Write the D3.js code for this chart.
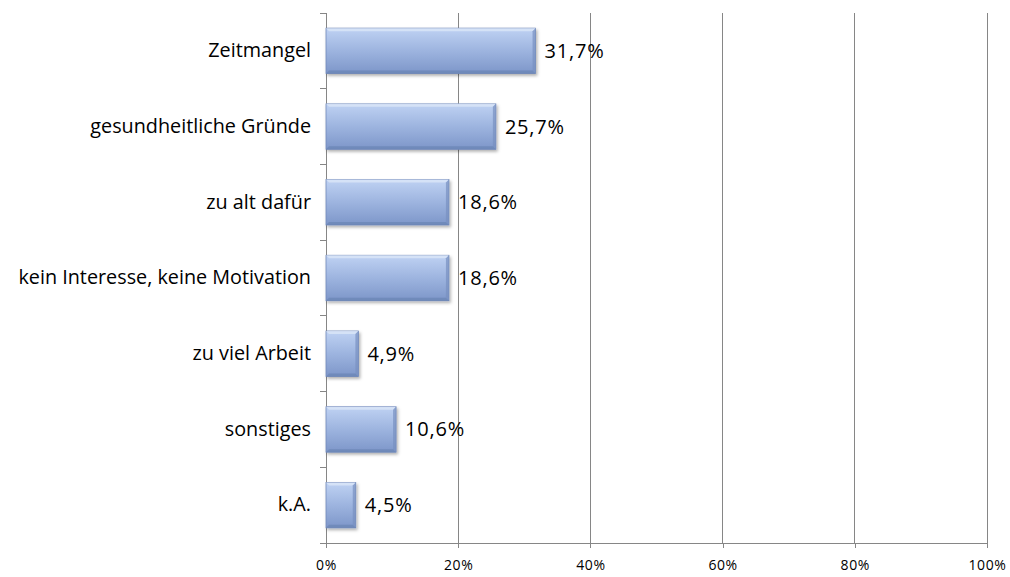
<!DOCTYPE html>
<html><head><meta charset="utf-8">
<script src="https://cdn.jsdelivr.net/npm/d3@7"></script>
<style>body{margin:0;background:#fff}svg{display:block}</style>
</head><body>
<script>
const categories = ["Zeitmangel","gesundheitliche Gründe","zu alt dafür","kein Interesse, keine Motivation","zu viel Arbeit","sonstiges","k.A."];
const values = [31.7,25.7,18.6,18.6,4.9,10.6,4.5];
const valueLabels = ["31,7%","25,7%","18,6%","18,6%","4,9%","10,6%","4,5%"];
const xTicks = [0,20,40,60,80,100];

const W=1010,H=577;
const svg=d3.select("body").append("svg").attr("width",W).attr("height",H);
const font="'Open Sans', sans-serif";
const x=d3.scaleLinear().domain([0,100]).range([326,987]);
const y=d3.scaleBand().domain(categories).range([13,543]).paddingInner(0.4).paddingOuter(0.2);
const defs=svg.append("defs");
const g=defs.append("linearGradient").attr("id","bg").attr("x1",0).attr("y1",0).attr("x2",0).attr("y2",1);
g.append("stop").attr("offset","0%").attr("stop-color","#bfd2f3");
g.append("stop").attr("offset","50%").attr("stop-color","#9db4df");
g.append("stop").attr("offset","100%").attr("stop-color","#7d96c9");
const f=defs.append("filter").attr("id","sh").attr("x","-10%").attr("y","-10%").attr("width","130%").attr("height","140%");
f.append("feDropShadow").attr("dx",1.5).attr("dy",2).attr("stdDeviation",1.5).attr("flood-color","#000").attr("flood-opacity",0.3);

// gridlines
svg.append("g").selectAll("line").data(xTicks.slice(1)).join("line")
 .attr("x1",d=>x(d)).attr("x2",d=>x(d)).attr("y1",13).attr("y2",543)
 .attr("stroke","#868686").attr("stroke-width",1).attr("shape-rendering","crispEdges");

// x axis
const xa=svg.append("g").attr("transform","translate(0,543)")
 .call(d3.axisBottom(x).tickValues(xTicks).tickSize(5).tickPadding(12).tickFormat(d=>d+"%"));
xa.attr("font-size",14);
xa.select(".domain").remove();
xa.selectAll(".tick line").attr("stroke","#868686").attr("shape-rendering","crispEdges");
xa.selectAll("text").attr("font-family",font).style("font-size","14px").attr("letter-spacing","0.6px").attr("fill","#000");
svg.append("line").attr("x1",320).attr("x2",987).attr("y1",543).attr("y2",543).attr("stroke","#868686").attr("shape-rendering","crispEdges");

// y axis
const yStep=y.step();
const ya=svg.append("g").attr("transform","translate(326,0)")
 .call(d3.axisLeft(y).tickSize(0).tickPadding(15));
ya.select(".domain").attr("stroke","#868686").attr("d","M0,13V543").attr("shape-rendering","crispEdges");
ya.selectAll("text").attr("font-family",font).style("font-size","19.8px").attr("fill","#000");
const bounds=d3.range(categories.length+1).map(i=>13+i*yStep);
svg.append("g").selectAll("line").data(bounds).join("line")
 .attr("x1",320).attr("x2",326).attr("y1",d=>d).attr("y2",d=>d)
 .attr("stroke","#868686").attr("shape-rendering","crispEdges");

// bars
const bars=svg.append("g").selectAll("g").data(categories).join("g");
bars.append("rect").attr("x",x(0)).attr("y",d=>y(d)).attr("width",(d,i)=>x(values[i])-x(0)).attr("height",y.bandwidth())
 .attr("fill","url(#bg)").attr("stroke","#7088b8").attr("stroke-width",0.8).attr("filter","url(#sh)");
const b=3;
bars.append("path").attr("d",(d,i)=>{const x0=x(0),x1=x(values[i]),y0=y(d);
 return `M${x0},${y0}L${x1},${y0}L${x1-b},${y0+b}L${x0+b},${y0+b}Z`;}).attr("fill","#dbe6f8").attr("opacity",0.8);
bars.append("path").attr("d",(d,i)=>{const x1=x(values[i]),y0=y(d),h=y.bandwidth();
 return `M${x1},${y0}L${x1},${y0+h}L${x1-b},${y0+h-b}L${x1-b},${y0+b}Z`;}).attr("fill","#7790c0").attr("opacity",0.7);
bars.append("path").attr("d",(d,i)=>{const x0=x(0),x1=x(values[i]),y0=y(d),h=y.bandwidth();
 return `M${x0},${y0+h}L${x1},${y0+h}L${x1-b},${y0+h-b}L${x0+b},${y0+h-b}Z`;}).attr("fill","#6a84b4").attr("opacity",0.7);

// value labels
svg.append("g").selectAll("text").data(categories).join("text")
 .attr("x",(d,i)=>x(values[i])+9).attr("y",d=>y(d)+y.bandwidth()/2).attr("dy","0.35em")
 .attr("font-family",font).style("font-size","20px").attr("letter-spacing","0.8px").attr("fill","#000").text((d,i)=>valueLabels[i]);
</script>
</body></html>
